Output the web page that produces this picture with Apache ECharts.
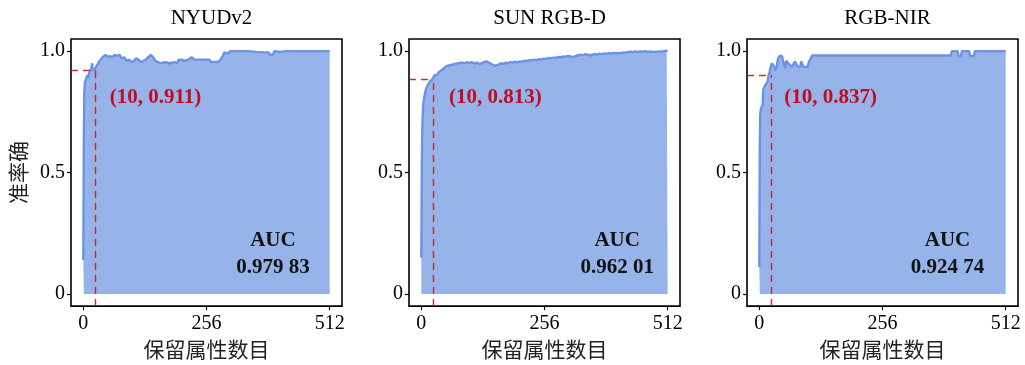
<!DOCTYPE html>
<html>
<head>
<meta charset="utf-8">
<script src="https://cdn.jsdelivr.net/npm/echarts@6/dist/echarts.min.js"></script>
<style>
html,body{margin:0;padding:0;background:#fff;}
#chart{width:1025px;height:365px;}
</style>
</head>
<body>
<div id="chart"></div>
<script>
// ---------- data ----------
const panelTitles = ['NYUDv2', 'SUN RGB-D', 'RGB-NIR'];
const xTicks = [0, 256, 512];
const yTicks = [0, 0.5, 1.0];
const xLabel = '保留属性数目';
const yLabel = '准率确';

const nyudData = [[0,0.14],[1,0.6],[2,0.82],[3,0.87],[5,0.88],[8,0.9],[10,0.89],[12,0.91],[15,0.91],[17,0.93],[18,0.95],[20,0.92],[22,0.92],[25,0.93],[28,0.94],[32,0.955],[36,0.96],[40,0.975],[43,0.98],[47,0.985],[50,0.975],[55,0.98],[60,0.975],[65,0.985],[70,0.98],[75,0.985],[80,0.97],[85,0.975],[90,0.96],[95,0.965],[100,0.955],[105,0.96],[110,0.97],[115,0.965],[120,0.955],[125,0.96],[130,0.965],[135,0.975],[140,0.985],[142,0.99],[145,0.975],[150,0.96],[155,0.955],[160,0.95],[170,0.955],[180,0.95],[190,0.955],[195,0.95],[198,0.965],[205,0.965],[210,0.96],[218,0.965],[225,0.975],[230,0.965],[240,0.965],[250,0.965],[262,0.965],[265,0.955],[280,0.955],[285,0.965],[290,0.98],[293,0.995],[300,0.99],[305,1.0],[320,1.0],[340,1.0],[360,0.997],[375,0.995],[385,0.995],[388,0.985],[394,0.985],[397,1.0],[410,0.997],[420,1.0],[450,1.0],[480,1.0],[512,1.0]];

const sunData = [[0,0.15],[1,0.52],[2,0.68],[3,0.74],[4,0.78],[6,0.81],[8,0.83],[10,0.845],[12,0.855],[15,0.865],[18,0.875],[21,0.882],[24,0.887],[27,0.9],[30,0.905],[33,0.903],[36,0.912],[40,0.918],[44,0.925],[48,0.93],[52,0.938],[56,0.935],[60,0.942],[64,0.94],[68,0.946],[72,0.944],[76,0.95],[80,0.948],[85,0.953],[90,0.95],[95,0.955],[100,0.951],[105,0.955],[110,0.949],[115,0.953],[120,0.947],[125,0.95],[130,0.955],[135,0.958],[140,0.953],[145,0.948],[150,0.942],[155,0.94],[160,0.944],[165,0.95],[170,0.948],[175,0.952],[180,0.95],[185,0.955],[190,0.953],[195,0.957],[200,0.954],[205,0.958],[210,0.957],[215,0.961],[220,0.959],[225,0.963],[230,0.962],[235,0.965],[240,0.963],[245,0.967],[250,0.966],[255,0.969],[260,0.968],[265,0.972],[270,0.97],[275,0.973],[280,0.972],[285,0.976],[290,0.974],[295,0.978],[300,0.977],[305,0.98],[310,0.978],[315,0.975],[320,0.979],[325,0.982],[330,0.985],[335,0.983],[340,0.987],[345,0.985],[350,0.983],[355,0.985],[360,0.988],[365,0.986],[370,0.99],[375,0.988],[380,0.991],[385,0.99],[390,0.992],[395,0.99],[400,0.993],[405,0.991],[410,0.993],[415,0.992],[420,0.995],[425,0.994],[430,0.997],[435,0.998],[440,0.996],[445,0.999],[450,0.997],[455,0.999],[460,0.998],[465,1.0],[470,0.997],[475,0.999],[480,0.996],[485,0.998],[490,0.997],[495,0.999],[500,0.998],[505,1.0],[510,1.002],[512,1.003]];

const nirData = [[0,0.11],[1,0.62],[2,0.74],[3,0.76],[5,0.77],[7,0.78],[8,0.84],[11,0.855],[14,0.86],[17,0.875],[19,0.9],[21,0.91],[23,0.93],[26,0.95],[29,0.955],[31,0.935],[33,0.918],[36,0.94],[39,0.97],[42,0.98],[47,0.98],[49,0.975],[52,0.94],[54,0.93],[56,0.96],[59,0.96],[62,0.945],[66,0.945],[68,0.935],[72,0.935],[74,0.958],[78,0.958],[80,0.935],[85,0.935],[87,0.958],[90,0.958],[92,0.935],[100,0.935],[103,0.955],[107,0.96],[110,0.982],[398,0.982],[400,1.0],[412,1.0],[414,0.98],[419,0.98],[421,1.0],[436,1.0],[438,0.98],[446,0.98],[448,1.0],[512,1.0]];

const seriesData = [nyudData, sunData, nirData];
const pointLabels = ['(10, 0.911)', '(10, 0.813)', '(10, 0.837)'];
const markerX = [25.6, 24, 25.6];
const markerY = [0.921, 0.883, 0.9];
const aucValues = ['0.979 83', '0.962 01', '0.924 74'];

// ---------- layout / style ----------
const gridLefts = [71, 409, 747];
const GRID_TOP = 39, GRID_W = 271, GRID_H = 270;
const XMIN = -25.6, XMAX = 537.6, YMIN = -0.05, YMAX = 1.05;
const labelPos = [[150, 0.81], [154, 0.81], [148, 0.81]];
const aucPos = [[394, 0.165], [407, 0.165], [391, 0.165]];
const SERIF = 'Liberation Serif';
const CJK = 'Noto Sans CJK SC';

const chart = echarts.init(document.getElementById('chart'), null, {renderer: 'canvas'});

const grids = [], xAxes = [], yAxes = [], series = [], titles = [];
for (let i = 0; i < 3; i++) {
  grids.push({left: gridLefts[i], top: GRID_TOP, width: GRID_W, height: GRID_H,
    show: true, borderColor: '#000', borderWidth: 1.6, backgroundColor: 'transparent', containLabel: false});
  titles.push({text: panelTitles[i], left: gridLefts[i] + GRID_W / 2, top: 3, textAlign: 'center',
    textStyle: {fontFamily: SERIF, fontSize: 21, fontWeight: 'normal', color: '#000'}});
  xAxes.push({type: 'value', gridIndex: i, min: XMIN, max: XMAX,
    axisLine: {show: false, onZero: false},
    axisTick: {show: true, customValues: xTicks, length: 4, inside: false, lineStyle: {color: '#000', width: 1.2}},
    axisLabel: {customValues: xTicks, margin: 8, fontFamily: SERIF, fontSize: 20, color: '#000'},
    splitLine: {show: false},
    name: xLabel, nameLocation: 'middle', nameGap: 30,
    nameTextStyle: {fontFamily: CJK, fontSize: 21, color: '#222'}});
  yAxes.push({type: 'value', gridIndex: i, min: YMIN, max: YMAX,
    axisLine: {show: false, onZero: false},
    axisTick: {show: true, customValues: yTicks, length: 4, lineStyle: {color: '#000', width: 1.2}},
    axisLabel: {customValues: yTicks, margin: 6, fontFamily: SERIF, fontSize: 20, color: '#000',
      formatter: v => (v === 0 ? '0' : v.toFixed(1))},
    splitLine: {show: false},
    name: i === 0 ? yLabel : '', nameLocation: 'middle', nameGap: 42,
    nameTextStyle: {fontFamily: CJK, fontSize: 21, color: '#222'}});
  const mx = markerX[i], my = markerY[i];
  series.push({
    type: 'line', xAxisIndex: i, yAxisIndex: i, data: seriesData[i],
    showSymbol: false, symbol: 'none', smooth: false,
    lineStyle: {color: '#6a93e6', width: 2.4},
    areaStyle: {color: '#96b4ea', opacity: 1, origin: 'auto'},
    markLine: {silent: true, symbol: ['none', 'none'], label: {show: false},
      lineStyle: {color: '#c41a1a', type: [7, 5], width: 1.4, opacity: 0.9},
      data: [
        [{coord: [XMIN, my]}, {coord: [mx, my]}],
        [{coord: [mx, YMIN]}, {coord: [mx, my]}]
      ]},
    markPoint: {silent: true, symbol: 'circle', symbolSize: 0,
      data: [
        {coord: labelPos[i], label: {show: true, position: 'inside', formatter: pointLabels[i],
          fontFamily: SERIF, fontWeight: 'bold', fontSize: 21, color: '#c00d1e'}},
        {coord: aucPos[i], label: {show: true, position: 'inside', formatter: 'AUC\n' + aucValues[i],
          fontFamily: SERIF, fontWeight: 'bold', fontSize: 21, lineHeight: 27, color: '#111', align: 'center'}}
      ]}
  });
}

chart.setOption({
  animation: false,
  backgroundColor: '#fff',
  title: titles,
  grid: grids,
  xAxis: xAxes,
  yAxis: yAxes,
  series: series
});
</script>
</body>
</html>
